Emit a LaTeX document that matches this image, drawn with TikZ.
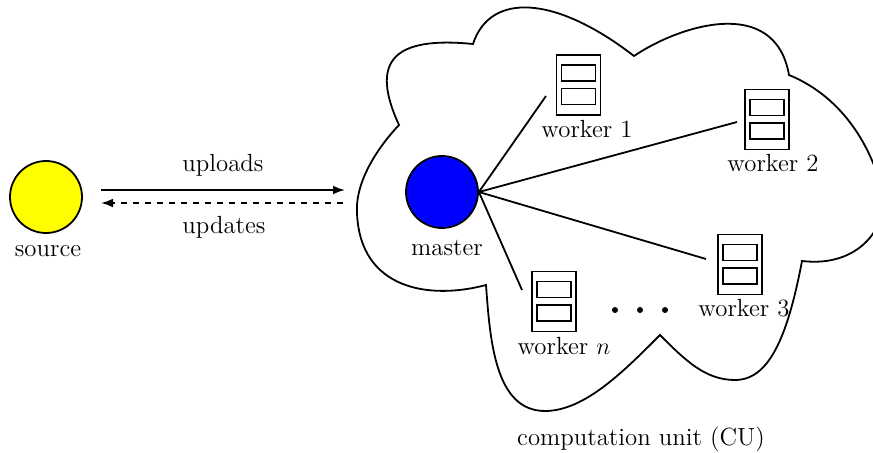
\documentclass[tikz,border=0pt]{standalone}
\usepackage{amsmath}
\usepackage{tikz}
\usetikzlibrary{arrows.meta}

\definecolor{srcyellow}{rgb}{1,1,0}
\definecolor{mstblue}{rgb}{0,0,1}

\tikzset{
    unit/.style = {circle, draw, line width = 0.9pt, minimum size = 36pt, inner sep = 0pt},
    txt/.style = {font = \fontsize{12.4}{15}\selectfont, inner sep = 0pt},
    wbox/.style = {rectangle, draw, line width = 0.9pt, minimum width = 22pt, minimum height = 30pt, inner sep = 0pt},
    wslot/.style = {rectangle, draw, line width = 0.9pt, minimum width = 17pt, minimum height = 8pt, inner sep = 0pt},
    dot/.style = {circle, fill, minimum size = 3pt, inner sep = 0pt}
}

\begin{document}
\begin{tikzpicture}[x = 0.5pt, y = -0.5pt, >={Latex[length=6pt,width=4.4pt]}, line width = 0.9pt]
        \useasboundingbox (0,0) rectangle (873,453);

        % cloud of the computation unit
        \draw (399,125) .. controls (370,62) and (392,36) .. (473,44)
            .. controls (490,-8) and (555,-5) .. (634,56)
            .. controls (680,25) and (775,-5) .. (789,75)
            .. controls (845,98) and (872,150) .. (882,190)
            .. controls (890,225) and (860,268) .. (802,261)
            .. controls (787,340) and (768,380) .. (735,380)
            .. controls (705,380) and (685,360) .. (660,335)
            .. controls (625,370) and (585,411) .. (545,411)
            .. controls (495,411) and (490,340) .. (486,285)
            .. controls (430,300) and (360,290) .. (357,213)
            .. controls (355,180) and (380,145) .. cycle;

        % source and master
        \node[unit, fill = srcyellow] (source) at (46,197) {};
        \node[unit, fill = mstblue] (master) at (442,192) {};
        \node[txt] (sourcelabel) at (48,251) {source};
        \node[txt] (masterlabel) at (447,248) {master};

        % workers
        \foreach \name/\x/\y/\lx/\ly/\lab in {
            one/578.5/85/587/129/worker 1,
            two/767/119.5/773/163/worker 2,
            three/740/264.5/744/308/worker 3,
            n/554/301.5/564/346/worker $n$}
        {
            \node[wbox] (w\name) at (\x,\y) {};
            \node[wslot] (w\name top) at (\x,\y-12) {};
            \node[wslot] (w\name bot) at (\x,\y+11.5) {};
            \node[txt] (w\name label) at (\lx,\ly) {\lab};
        }

        % links from master, they stop short of the workers
        \coordinate (endone) at (546,96);
        \coordinate (endtwo) at (737,122);
        \coordinate (endthree) at (706,259);
        \coordinate (endn) at (522,290);
        \foreach \name in {one,two,three,n}
            \draw (master.east) -- (end\name);

        % uploads and updates
        \coordinate (upfrom) at (101,190);
        \coordinate (upto) at (345,190);
        \coordinate (downfrom) at (343,203);
        \coordinate (downto) at (101,203);
        \draw[->] (upfrom) -- (upto);
        \draw[->, dashed] (downfrom) -- (downto);
        \node[txt] (uploads) at (223,165) {uploads};
        \node[txt] (updates) at (224,227) {updates};

        % dots between worker 3 and worker n
        \foreach \x in {615,640,665}
            \node[dot] (dot\x) at (\x,310) {};

        \node[txt] (culabel) at (641,439) {computation unit (CU)};
\end{tikzpicture}
\end{document}
